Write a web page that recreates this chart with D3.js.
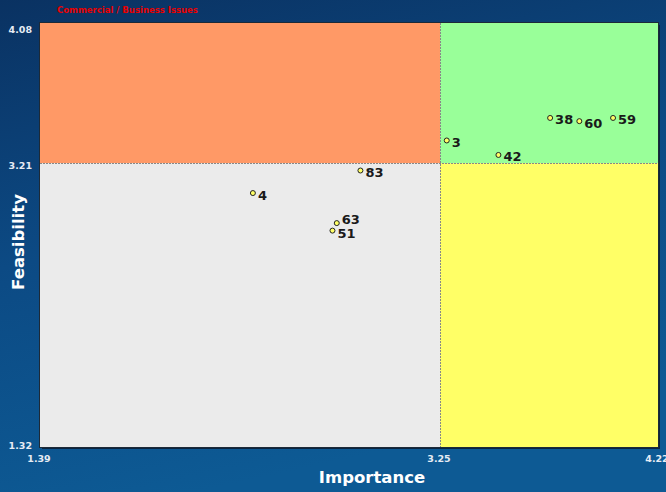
<!DOCTYPE html>
<html><head><meta charset="utf-8">
<script src="https://cdn.jsdelivr.net/npm/d3@7"></script>
<style>html,body{margin:0;padding:0;overflow:hidden;background:#0b4a82}</style>
</head><body>
<script>
const title = "Commercial / Business Issues";
const xTitle = "Importance", yTitle = "Feasibility";
const xTicks = [1.39, 3.25, 4.22];
const yTicks = [4.08, 3.21, 1.32];
const labels = ["3", "42", "38", "60", "59", "83", "4", "63", "51"];
const importance = [3.28, 3.51, 3.74, 3.87, 4.02, 2.88, 2.38, 2.77, 2.75];
const feasibility = [3.35, 3.26, 3.49, 3.47, 3.49, 3.16, 3.01, 2.81, 2.76];
const quadColors = ["#ff9966", "#99ff99", "#ebebeb", "#ffff66"];

const W = 666, H = 492;
const L = 40, R = 658, T = 23, B = 447;
const svg = d3.select("body").append("svg").attr("width", W).attr("height", H);
const defs = svg.append("defs");
const g1 = defs.append("linearGradient").attr("id","bg").attr("x1","0").attr("y1","0").attr("x2","0.3").attr("y2","1");
g1.append("stop").attr("offset","0").attr("stop-color","#0a3262");
g1.append("stop").attr("offset","0.5").attr("stop-color","#0c4a84");
g1.append("stop").attr("offset","1").attr("stop-color","#0d5a94");
svg.append("rect").attr("width",W).attr("height",H).attr("fill","url(#bg)");

const x = d3.scaleLinear().domain(xTicks).range([L, 440, R]);
const y = d3.scaleLinear().domain(yTicks).range([T, 163, B]);

// shadow + border
svg.append("rect").attr("x",L+2).attr("y",T+2).attr("width",R-L).attr("height",B-T).attr("fill","#0a2440");
const quads = [
  [xTicks[0], xTicks[1], yTicks[0], yTicks[1]],
  [xTicks[1], xTicks[2], yTicks[0], yTicks[1]],
  [xTicks[0], xTicks[1], yTicks[1], yTicks[2]],
  [xTicks[1], xTicks[2], yTicks[1], yTicks[2]]
];
svg.selectAll("rect.q").data(quads).join("rect").attr("class","q")
  .attr("x", d=>x(d[0])).attr("y", d=>y(d[2]))
  .attr("width", d=>x(d[1])-x(d[0])).attr("height", d=>y(d[3])-y(d[2]))
  .attr("fill", (d,i)=>quadColors[i]);
svg.append("rect").attr("x",L-0.5).attr("y",T-0.5).attr("width",R-L+1).attr("height",B-T+1)
  .attr("fill","none").attr("stroke","#1c2a38").attr("stroke-width",1);
svg.append("line").attr("x1",x(xTicks[1])+0.5).attr("x2",x(xTicks[1])+0.5).attr("y1",T).attr("y2",B)
  .attr("stroke","#888").attr("stroke-dasharray","2,1");
svg.append("line").attr("x1",L).attr("x2",R).attr("y1",y(yTicks[1])+0.5).attr("y2",y(yTicks[1])+0.5)
  .attr("stroke","#888").attr("stroke-dasharray","2,1");

// points
const pts = labels.map((l,i)=>({l, x: importance[i], y: feasibility[i]}));
pts.forEach(p=>{ p.cx = x(p.x); p.cy = y(p.y); p.ly = p.cy + 6.5; });
// simple label collision avoidance
for (let i=0;i<pts.length;i++) for (let j=0;j<pts.length;j++) {
  if (i===j) continue;
  const a = pts[i], b = pts[j];
  const dy = b.ly - a.ly;
  if (dy > 0 && dy < 14 && Math.abs(a.cx - b.cx) < 20) { a.ly -= (14 - dy) - 1; b.ly += 1; }
}
svg.selectAll("circle.p").data(pts).join("circle").attr("class","p")
  .attr("cx", d=>d.cx).attr("cy", d=>d.cy).attr("r",2.5)
  .attr("fill","#ffff66").attr("stroke","#222").attr("stroke-width",1);
svg.selectAll("text.p").data(pts).join("text").attr("class","p")
  .attr("x", d=>d.cx+5).attr("y", d=>d.ly)
  .attr("font-family","DejaVu Sans, sans-serif").attr("font-weight","bold").attr("font-size",13)
  .attr("fill","#1a1a1a").text(d=>d.l);

// title
svg.append("text").attr("x",57).attr("y",13).attr("fill","#e80000")
  .attr("font-family","DejaVu Sans, sans-serif").attr("font-size",8.5).attr("font-weight","bold").text(title);

// y ticks
const yOff = [10, 6, 2];
svg.selectAll("text.yt").data(yTicks).join("text").attr("class","yt")
  .attr("x",32).attr("y",(d,i)=>y(d)+yOff[i]).attr("text-anchor","end")
  .attr("fill","#e6ecf4").attr("font-family","DejaVu Sans, sans-serif").attr("font-weight","bold").attr("font-size",9.5)
  .text(d=>d.toFixed(2));
// x ticks
svg.selectAll("text.xt").data(xTicks).join("text").attr("class","xt")
  .attr("x",(d,i)=>x(d)-1).attr("y",462).attr("text-anchor","middle")
  .attr("fill","#e6ecf4").attr("font-family","DejaVu Sans, sans-serif").attr("font-weight","bold").attr("font-size",9.5)
  .text(d=>d.toFixed(2));

// axis titles
svg.append("text").attr("x",372).attr("y",483).attr("text-anchor","middle").attr("fill","#ffffff")
  .attr("font-family","DejaVu Sans, sans-serif").attr("font-weight","bold").attr("font-size",16.5).text(xTitle);
svg.append("text").attr("transform","translate(24,242) rotate(-90)").attr("text-anchor","middle").attr("fill","#ffffff")
  .attr("font-family","DejaVu Sans, sans-serif").attr("font-weight","bold").attr("font-size",16.5).text(yTitle);
</script>
</body></html>
